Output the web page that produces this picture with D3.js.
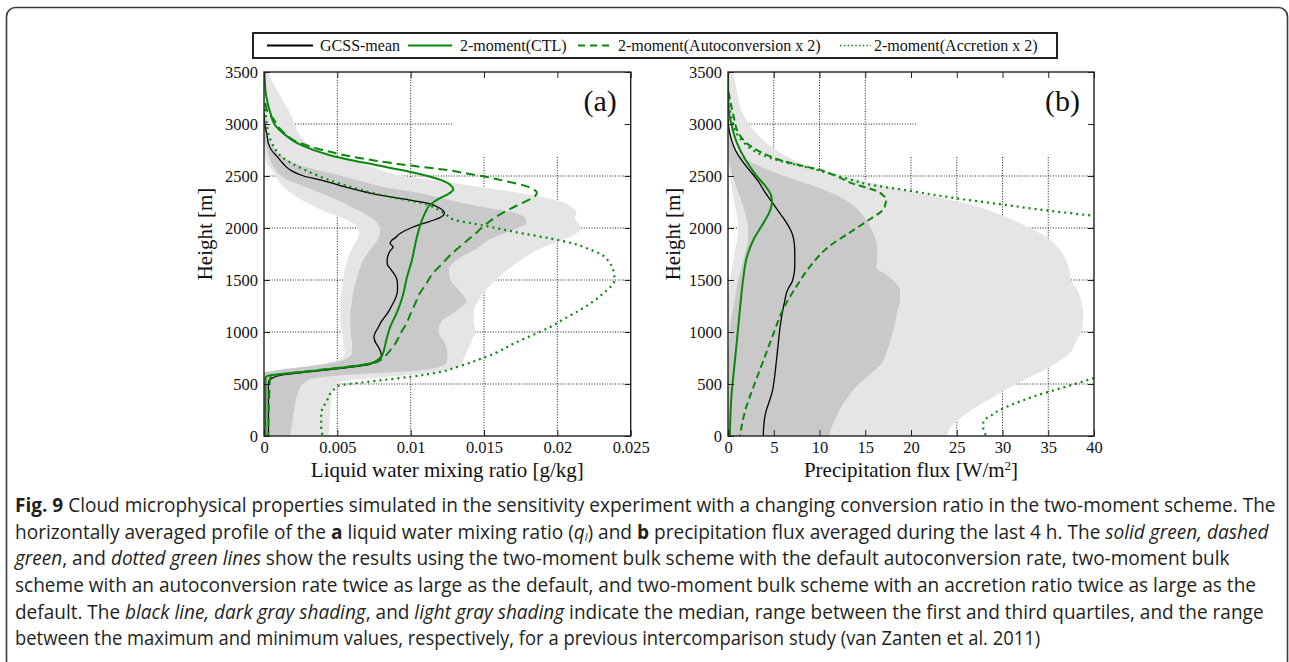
<!DOCTYPE html>
<html><head><meta charset="utf-8">
<script src="https://cdn.jsdelivr.net/npm/d3@7"></script>
<style>body{margin:0;background:#fff}svg{display:block}</style>
</head><body><svg id="c" width="1289" height="662"></svg>
<script>
// ---------------- DATA ----------------
const heightTicks = [0,500,1000,1500,2000,2500,3000,3500];
const aXTicks = [0,0.005,0.01,0.015,0.02,0.025];
const bXTicks = [0,5,10,15,20,25,30,35,40];
const legendLabels = ["GCSS-mean","2-moment(CTL)","2-moment(Autoconversion x 2)","2-moment(Accretion x 2)"];

// Panel (a): liquid water mixing ratio [g/kg]; [height m, value]
const aGcss = [[3100,0],[3000,0.00005],[2900,0.0002],[2814,0.0003],[2750,0.0005],[2686,0.0009],[2620,0.0013],[2557,0.0018],[2500,0.0027],[2461,0.0039],[2412,0.0051],[2334,0.0073],[2280,0.0095],[2237,0.0112],[2190,0.0120],[2141,0.0123],[2100,0.0120],[2077,0.0116],[2042,0.0108],[2000,0.0100],[1949,0.0093],[1900,0.0089],[1881,0.0087],[1850,0.0086],[1817,0.0088],[1780,0.0086],[1753,0.0085],[1700,0.0084],[1657,0.0084],[1593,0.0087],[1529,0.0090],[1465,0.0091],[1400,0.0091],[1337,0.0090],[1250,0.0087],[1176,0.0084],[1100,0.0080],[1048,0.0078],[952,0.0075],[900,0.0076],[856,0.0078],[776,0.0080],[727,0.0077],[689,0.0072],[660,0.0058],[631,0.0040],[600,0.0020],[583,0.0011],[551,0.0005],[520,0.0003],[0,0.0003]];
const aCtl = [[3500,0.00003],[3400,0.00006],[3300,0.00012],[3200,0.00025],[3100,0.00045],[3000,0.0007],[2900,0.0014],[2800,0.0025],[2700,0.0045],[2600,0.0078],[2520,0.0106],[2460,0.0121],[2400,0.0128],[2370,0.0129],[2330,0.0126],[2280,0.0119],[2220,0.0113],[2150,0.0110],[2050,0.0107],[1900,0.0104],[1700,0.0101],[1500,0.0097],[1368,0.0095],[1200,0.0091],[1048,0.0086],[900,0.0083],[792,0.0081],[740,0.0079],[700,0.0073],[660,0.0055],[631,0.0036],[600,0.0015],[580,0.0003],[560,0.0001],[500,0.0001],[0,0.0001]];
const aAuto = [[3200,0.0001],[3096,0.0003],[3055,0.0006],[2968,0.0010],[2900,0.0015],[2846,0.0020],[2800,0.0028],[2750,0.0040],[2700,0.0055],[2650,0.0075],[2600,0.0100],[2557,0.0125],[2520,0.0140],[2490,0.0152],[2450,0.0165],[2410,0.0177],[2370,0.0184],[2340,0.0186],[2310,0.0185],[2280,0.0182],[2234,0.0175],[2170,0.0166],[2106,0.0158],[2020,0.0150],[1946,0.0144],[1850,0.0136],[1753,0.0128],[1650,0.0121],[1561,0.0115],[1450,0.0110],[1368,0.0106],[1270,0.0103],[1176,0.0100],[1080,0.0097],[984,0.0093],[900,0.0090],[824,0.0086],[760,0.0082],[712,0.0077],[680,0.0065],[647,0.0045],[615,0.0025],[583,0.0007],[550,0.0004],[0,0.0003]];
const aAccr = [[3200,0.00005],[3103,0.0001],[3000,0.0002],[2910,0.0003],[2800,0.0006],[2686,0.0012],[2557,0.0028],[2430,0.0051],[2301,0.0085],[2237,0.0108],[2141,0.0123],[2077,0.0130],[2042,0.0143],[2000,0.0158],[1946,0.0177],[1900,0.0195],[1850,0.0211],[1800,0.0221],[1753,0.0229],[1680,0.0235],[1600,0.0238],[1500,0.0239],[1430,0.0236],[1368,0.0231],[1300,0.0225],[1208,0.0215],[1130,0.0205],[1048,0.0195],[970,0.0183],[888,0.0170],[800,0.0158],[727,0.0145],[670,0.0133],[615,0.0120],[570,0.0100],[535,0.0079],[510,0.0064],[487,0.0052],[460,0.0049],[439,0.0047],[343,0.0043],[215,0.0039],[87,0.0039],[0,0.0040]];
// GCSS spread, panel (a): [height, min, max]
const aRange = [[3500,0,0.0003],[3400,0,0.0006],[3300,0,0.0010],[3200,0,0.0014],[3100,0,0.0018],[3000,0,0.0021],[2900,0,0.0024],[2800,0,0.0031],[2700,0,0.0047],[2600,0.0003,0.0071],[2500,0.0008,0.0095],[2450,0.0010,0.0120],[2400,0.0013,0.0145],[2350,0.0017,0.0168],[2300,0.0022,0.0188],[2250,0.0028,0.0203],[2200,0.0035,0.0210],[2150,0.0043,0.0213],[2100,0.0053,0.0212],[2050,0.0060,0.0214],[2000,0.0064,0.0216],[1950,0.0065,0.0213],[1900,0.0064,0.0206],[1850,0.0062,0.0197],[1800,0.0060,0.0188],[1700,0.0057,0.0176],[1600,0.0055,0.0166],[1500,0.0054,0.0158],[1400,0.0053,0.0151],[1300,0.0052,0.0146],[1200,0.0052,0.0143],[1100,0.0052,0.0143],[1000,0.0053,0.0144],[900,0.0054,0.0141],[800,0.0055,0.0138],[740,0.0052,0.0136],[700,0.0042,0.0135],[660,0.0025,0.0132],[630,0.0010,0.0125],[600,0,0.0110],[570,0,0.0085],[540,0,0.0060],[500,0,0.0050],[400,0,0.0046],[200,0,0.0045],[0,0,0.0044]];
const aQuart = [[3200,0,0.00002],[3100,0,0.0001],[3000,0,0.0002],[2900,0,0.0002],[2850,0,0.0003],[2800,0.0001,0.0005],[2700,0.0003,0.0011],[2600,0.0006,0.0025],[2500,0.0012,0.0053],[2450,0.0018,0.0066],[2400,0.0028,0.0080],[2350,0.0036,0.0100],[2300,0.0045,0.0117],[2250,0.0053,0.0132],[2200,0.0060,0.0150],[2150,0.0067,0.0170],[2100,0.0073,0.0178],[2050,0.0077,0.0179],[2000,0.0079,0.0173],[1950,0.0079,0.0164],[1900,0.0078,0.0155],[1800,0.0073,0.0145],[1700,0.0068,0.0132],[1600,0.0065,0.0126],[1500,0.0063,0.0127],[1400,0.0061,0.0133],[1300,0.0060,0.0138],[1200,0.0059,0.0131],[1100,0.0059,0.0121],[1000,0.0059,0.0119],[900,0.0060,0.0123],[800,0.0060,0.0125],[740,0.0056,0.0125],[700,0.0046,0.0124],[660,0.0025,0.0118],[630,0.0008,0.0105],[610,0,0.0085],[580,0,0.0050],[550,0,0.0032],[450,0,0.0024],[200,0,0.0020],[0,0,0.0018]];

// Panel (b): precipitation flux [W/m2]; [height m, value]
const bGcss = [[3050,0],[2985,0.05],[2857,0.35],[2750,0.8],[2650,1.5],[2550,2.4],[2450,3.3],[2350,4.0],[2250,4.8],[2150,5.6],[2050,6.4],[1950,7.0],[1850,7.25],[1750,7.3],[1650,7.3],[1550,7.2],[1480,7.0],[1420,6.6],[1377,6.4],[1300,6.2],[1216,6.0],[1055,5.7],[894,5.5],[733,5.3],[573,5.1],[412,4.8],[330,4.5],[251,4.2],[170,4.0],[90,3.9],[0,3.85]];
const bCtl = [[3500,0],[3300,0.02],[3146,0.07],[2985,0.4],[2824,0.95],[2664,1.86],[2503,3.1],[2390,4.2],[2300,4.75],[2240,4.8],[2181,4.65],[2052,3.9],[1892,2.8],[1699,2.0],[1538,1.7],[1216,1.3],[894,0.95],[573,0.58],[412,0.4],[0,0.2]];
const bAuto = [[3307,0.07],[3200,0.3],[3082,0.6],[2921,1.1],[2792,2.4],[2700,4.3],[2664,5.3],[2600,8.0],[2567,9.7],[2500,11.8],[2422,13.8],[2358,16.2],[2310,17.0],[2278,17.3],[2230,17.2],[2181,17.0],[2084,15.5],[1956,13.3],[1827,11.1],[1634,9.0],[1441,7.5],[1216,6.0],[991,5.0],[733,3.9],[476,2.8],[251,1.9],[0,1.3]];
const bAccrUpper = [[3300,0],[3210,0.07],[3100,0.3],[2985,0.6],[2900,1.0],[2824,1.7],[2750,2.7],[2696,3.9],[2650,5.5],[2599,7.9],[2550,10.1],[2503,11.9],[2460,13.6],[2422,15.2],[2358,19.9],[2294,24.3],[2229,29.7],[2165,35.2],[2117,40]];
const bAccrLower = [[557,40],[476,37],[380,33.4],[300,31],[251,29.7],[200,28.8],[138,27.9],[58,27.9],[0,28.3]];
const bRange = [[3500,0,0.5],[3400,0,0.8],[3300,0,1.0],[3200,0,1.2],[3100,0,1.6],[3000,0,2.3],[2900,0,3.2],[2800,0,4.5],[2700,0,6.2],[2600,0.1,8.6],[2500,0.2,12.7],[2400,0.4,17.5],[2300,0.6,22.8],[2200,0.8,27.5],[2100,1.0,30.5],[2000,1.1,33.0],[1900,1.0,35.0],[1800,0.8,36.2],[1700,0.6,36.9],[1600,0.4,37.3],[1500,0.2,37.5],[1400,0.1,38.2],[1300,0,38.6],[1200,0,38.8],[1100,0,38.8],[1000,0,38.6],[900,0,38.0],[800,0,37.4],[700,0,35.8],[600,0,33.8],[500,0,31.5],[400,0,29.5],[300,0,27.5],[200,0,25.8],[100,0,24.5],[0,0,23.9]];
const bQuart = [[3000,0,0.05],[2900,0,0.2],[2800,0,0.6],[2700,0,1.3],[2600,0.2,3.3],[2500,0.5,6.1],[2400,0.9,9.5],[2300,1.3,12.2],[2200,1.7,13.9],[2100,2.0,14.9],[2000,2.2,15.6],[1900,2.2,16.1],[1800,2.0,16.3],[1700,1.7,16.3],[1620,1.5,16.2],[1560,1.3,17.1],[1500,1.1,18.0],[1400,0.9,18.8],[1300,0.7,18.8],[1200,0.5,18.5],[1100,0.3,18.3],[1000,0.2,18.0],[900,0.1,17.7],[800,0,17.3],[700,0,16.8],[600,0,15.6],[500,0,14.3],[400,0,13.3],[300,0,12.5],[200,0,11.9],[100,0,11.4],[0,0,11.0]];

const captionLines = [
  [["Fig. 9","b"],[" Cloud microphysical properties simulated in the sensitivity experiment with a changing conversion ratio in the two-moment scheme. The",""]],
  [["horizontally averaged profile of the ",""],["a","b"],[" liquid water mixing ratio (",""],["q","i"],["l","isub"],[") and ",""],["b","b"],[" precipitation flux averaged during the last 4 h. The ",""],["solid green, dashed","i"]],
  [["green","i"],[", and ",""],["dotted green lines","i"],[" show the results using the two-moment bulk scheme with the default autoconversion rate, two-moment bulk",""]],
  [["scheme with an autoconversion rate twice as large as the default, and two-moment bulk scheme with an accretion ratio twice as large as the",""]],
  [["default. The ",""],["black line, dark gray shading","i"],[", and ",""],["light gray shading","i"],[" indicate the median, range between the first and third quartiles, and the range",""]],
  [["between the maximum and minimum values, respectively, for a previous intercomparison study (van Zanten et al. 2011)",""]]
];

// ---------------- LAYOUT ----------------
const W = 1289, H = 662;
const TOP = 72, BOT = 436;
const GREEN = "#0b870b", LIGHT = "#e5e5e5", DARK = "#c9c9c9";
const SERIF = "'Liberation Serif','Times New Roman',serif";
const svg = d3.select("#c");
svg.append("rect").attr("width",W).attr("height",H).attr("fill","#fff");

// outer frame
svg.append("rect").attr("x",6.5).attr("y",7.5).attr("width",1281).attr("height",662)
  .attr("rx",9).attr("fill","none").attr("stroke","#3a3a3a").attr("stroke-width",1.6);

const y = d3.scaleLinear().domain([0,3500]).range([BOT,TOP]);

function panel(id, x, xTicks, ranges, quarts, series, label, keyX, keyXh, titleParts, ylabX){
  const g = svg.append("g");
  const [x0,x1] = x.range();
  const clipId = "clip"+id;
  svg.append("clipPath").attr("id",clipId).append("rect")
    .attr("x",x0).attr("y",TOP).attr("width",x1-x0).attr("height",BOT-TOP);
  // grid
  const grid = g.append("g").attr("stroke","#000").attr("stroke-width",0.9).attr("stroke-dasharray","1,1.6");
  heightTicks.filter(h=>h>0&&h<3500).forEach(h=>{
    grid.append("line").attr("x1",x0).attr("x2",h===3000?keyXh:x1).attr("y1",y(h)).attr("y2",y(h));
  });
  xTicks.slice(1,-1).forEach(v=>{
    const px = x(v);
    grid.append("line").attr("x1",px).attr("x2",px).attr("y1",px>keyX?157:TOP).attr("y2",BOT);
  });
  const pg = g.append("g").attr("clip-path",`url(#${clipId})`);
  const area = d3.area().curve(d3.curveMonotoneY).y(d=>y(d[0])).x0(d=>x(d[1])).x1(d=>x(d[2]));
  pg.append("path").datum(ranges).attr("d",area).attr("fill",LIGHT);
  pg.append("path").datum(quarts).attr("d",area).attr("fill",DARK);
  const line = d3.line().curve(d3.curveMonotoneY).y(d=>y(d[0])).x(d=>x(d[1]));
  series.forEach(s=>{
    pg.append("path").datum(s.data).attr("d",line).attr("fill","none")
      .attr("stroke",s.color).attr("stroke-width",s.w).attr("stroke-dasharray",s.dash||null)
      .attr("stroke-linecap",s.cap||"butt").attr("stroke-linejoin","round");
  });
  // axes (ticks inward on four sides)
  const fmt = d=>String(d);
  const ax = [
    [d3.axisLeft(y).tickValues(heightTicks).tickSize(-6).tickPadding(6).tickFormat(fmt), `translate(${x0},0)`],
    [d3.axisRight(y).tickValues(heightTicks).tickSize(-6).tickFormat(""), `translate(${x1},0)`],
    [d3.axisBottom(x).tickValues(xTicks).tickSize(-6).tickPadding(5).tickFormat(fmt), `translate(0,${BOT})`],
    [d3.axisTop(x).tickValues(xTicks).tickSize(-6).tickFormat(""), `translate(0,${TOP})`]
  ];
  ax.forEach(([a,t])=>{
    const ag = g.append("g").attr("transform",t).call(a);
    ag.select(".domain").remove();
    ag.selectAll("line").attr("stroke","#222").attr("stroke-width",1);
    ag.selectAll("text").attr("font-family",SERIF).attr("font-size",16.5).attr("fill","#111");
  });
  g.append("rect").attr("x",x0).attr("y",TOP).attr("width",x1-x0).attr("height",BOT-TOP)
    .attr("fill","none").attr("stroke","#222").attr("stroke-width",1.4);
  g.append("text").attr("x",x1-14).attr("y",111).attr("text-anchor","end")
    .attr("font-family",SERIF).attr("font-size",30).attr("fill","#111").text(label);
  // axis titles
  g.append("text").attr("transform",`translate(${ylabX},234) rotate(-90)`).attr("text-anchor","middle")
    .attr("font-family",SERIF).attr("font-size",21).attr("fill","#111").text("Height [m]");
  const xt = g.append("text").attr("x",(x0+x1)/2).attr("y",477).attr("text-anchor","middle")
    .attr("font-family",SERIF).attr("font-size",21).attr("fill","#111");
  titleParts.forEach(([t,s])=>{
    const ts = xt.append("tspan").text(t);
    if(s==="sup") ts.attr("baseline-shift","super").attr("font-size",13);
  });
}

const xa = d3.scaleLinear().domain([0,0.025]).range([264,630.7]);
const xb = d3.scaleLinear().domain([0,40]).range([728,1094]);

panel("a", xa, aXTicks, aRange, aQuart, [
  {data:aGcss, color:"#000", w:1.3},
  {data:aCtl, color:GREEN, w:2},
  {data:aAuto, color:GREEN, w:2, dash:"9,5"},
  {data:aAccr, color:GREEN, w:2.2, dash:"2,4"}
], "(a)", 443, 453, [["Liquid water mixing ratio [g/kg]",""]], 212);

panel("b", xb, bXTicks, bRange, bQuart, [
  {data:bGcss, color:"#000", w:1.3},
  {data:bCtl, color:GREEN, w:2},
  {data:bAuto, color:GREEN, w:2, dash:"7,4"},
  {data:bAccrUpper, color:GREEN, w:2.2, dash:"2,4"},
  {data:bAccrLower, color:GREEN, w:2.2, dash:"2,4"}
], "(b)", 905, 917, [["Precipitation flux [W/m",""],["2","sup"],["]",""]], 680);

// ---------------- LEGEND ----------------
const lg = svg.append("g");
lg.append("rect").attr("x",253).attr("y",33).attr("width",804).attr("height",25)
  .attr("fill","#fff").attr("stroke","#222").attr("stroke-width",2);
const legItems = [
  {x1:267,x2:313,tx:320,color:"#000",w:2,dash:null},
  {x1:408,x2:452,tx:460,color:GREEN,w:2,dash:null},
  {x1:578,x2:612,tx:618,color:GREEN,w:2,dash:"7,5"},
  {x1:840,x2:871,tx:874,color:GREEN,w:1.6,dash:"1.5,2.3"}
];
legItems.forEach((it,i)=>{
  lg.append("line").attr("x1",it.x1).attr("x2",it.x2).attr("y1",45.5).attr("y2",45.5)
    .attr("stroke",it.color).attr("stroke-width",it.w).attr("stroke-dasharray",it.dash);
  lg.append("text").attr("x",it.tx).attr("y",51).attr("font-family",SERIF).attr("font-size",16)
    .attr("fill","#111").text(legendLabels[i]);
});

// ---------------- CAPTION ----------------
const capRight = [1276,1270,1232,1257,1264,1041];
const capBase = [512,539,565,592,619,645];
const CAPFONT = "'Open Sans','Noto Sans',sans-serif";
captionLines.forEach((parts,i)=>{
  const t = svg.append("text").attr("x",0).attr("y",0)
    .attr("font-family",CAPFONT).attr("font-size",20).attr("fill","#231f20");
  parts.forEach(([txt,st])=>{
    const ts = t.append("tspan").text(txt);
    if(st==="b") ts.attr("font-weight","bold");
    if(st==="i") ts.attr("font-style","italic");
    if(st==="isub") ts.attr("font-style","italic").attr("baseline-shift","-2").attr("font-size",11);
  });
  const w = t.node().getBBox().width;
  const sx = (capRight[i]-15)/w;
  t.attr("transform",`translate(15,${capBase[i]}) scale(${sx},1)`);
});
</script></body></html>
